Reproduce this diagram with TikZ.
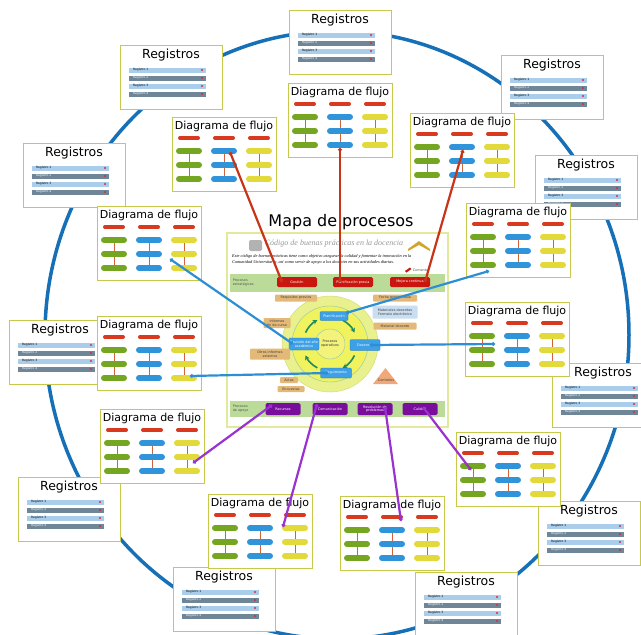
\documentclass[tikz,border=0pt]{standalone}
\usepackage{fontspec}
\setmainfont{DejaVu Sans}
\newfontfamily\cabfont{Liberation Serif}
\usetikzlibrary{arrows.meta}

\definecolor{bordecaja}{HTML}{C8C84A}
\definecolor{rojobarra}{HTML}{D8391F}
\definecolor{verde}{HTML}{74A622}
\definecolor{azul}{HTML}{2F94DA}
\definecolor{amarillo}{HTML}{E2D93B}
\definecolor{lineacol}{HTML}{D0653C}
\definecolor{regclaro}{HTML}{A9CDEA}
\definecolor{regoscuro}{HTML}{6E8698}
\definecolor{puntorojo}{HTML}{D03040}
\definecolor{elipse}{HTML}{1670B8}
\definecolor{rojolinea}{HTML}{C93417}
\definecolor{azullinea}{HTML}{2C8FD5}
\definecolor{moradolinea}{HTML}{9A32D2}
\definecolor{bordepanel}{HTML}{E2E99A}
\definecolor{verdebanda}{HTML}{BBDC98}
\definecolor{rojocaja}{HTML}{C9160E}
\definecolor{moradocaja}{HTML}{7A0E9C}
\definecolor{azulcaja}{HTML}{3EA0E6}
\definecolor{naranja}{HTML}{E4B978}
\definecolor{azulclaro}{HTML}{C9DEF0}
\definecolor{naranjatri}{HTML}{F0A878}
\definecolor{anillo}{HTML}{E9F08E}
\definecolor{anilloborde}{HTML}{CEDB72}
\definecolor{medio}{HTML}{F1F35E}
\definecolor{nucleo}{HTML}{F3F37C}
\definecolor{verdeflecha}{HTML}{1F8A5C}
\definecolor{gristexto}{HTML}{555555}

\begin{document}
\begin{tikzpicture}[x=1pt, y=-1pt,
    caja/.style={draw=bordecaja, line width=1.2pt, fill=white, anchor=north west, inner sep=0pt},
    cajaflujo/.style={caja, minimum width=104pt, minimum height=74pt},
    cajareg/.style={caja, minimum width=102pt, minimum height=64pt},
    titflujo/.style={inner sep=0pt, font=\fontsize{11}{12}\selectfont},
    titreg/.style={inner sep=0pt, font=\fontsize{12.5}{14}\selectfont},
    barra/.style={line width=6pt, line cap=round},
    regtxt/.style={inner sep=0pt, anchor=west, font=\fontsize{3}{3.5}\selectfont},
    diminuto/.style={inner sep=0.6pt, font=\fontsize{3.4}{3.9}\selectfont, align=center},
    banda/.style={fill=verdebanda, anchor=north west, minimum width=215pt, inner sep=0pt},
    cajaroja/.style={diminuto, fill=rojocaja, text=white, rounded corners=1.5pt, minimum width=40pt, minimum height=10pt},
    cajamorada/.style={diminuto, fill=moradocaja, text=white, rounded corners=1.5pt, minimum width=35pt, minimum height=12pt},
    cajaazul/.style={diminuto, fill=azulcaja, draw=azulcaja!70!black, line width=0.3pt, text=white, rounded corners=1pt},
    etiqueta/.style={diminuto, fill=naranja, text=black!75, rounded corners=1pt},
    flecha/.style={verdeflecha, line width=1.6pt, -{Stealth[length=4.5pt, width=5pt]}},
    conexion/.style={line width=2.2pt, {Circle[length=3.6pt]}-{Circle[length=3.6pt]}},
    flujo/.pic={
      \node[titflujo] (-t) at (52,9) {Diagrama de flujo};
      \foreach \cx/\col in {17/verde,52/azul,87/amarillo}{
        \draw[lineacol, line width=0.6pt] (\cx,34) -- (\cx,62);
        \draw[barra, line width=4pt, rojobarra] (\cx-9,21) -- (\cx+9,21);
        \foreach \yy in {34,48,62}
          \draw[barra, \col] (\cx-10,\yy) -- (\cx+10,\yy);
      }
    },
    registros/.pic={
      \node[titreg] (-t) at (51,10) {Registros};
      \foreach \k/\yy/\fondo/\letra in {1/25/regclaro/black,2/33/regoscuro/white,3/41/regclaro/black,4/49/regoscuro/white}{
        \fill[\fondo] (9,\yy-2.5) rectangle (86,\yy+2.5);
        \node[regtxt, text=\letra] (-r\k) at (13,\yy) {Registro \k};
        \fill[puntorojo] (82,\yy) circle (1.1);
      }
    }]
  \fill[white] (0,0) rectangle (641,635);
  \useasboundingbox (0,0) rectangle (641,635);

  % gran circulo
  \draw[elipse, line width=3.5pt] (337,335) ellipse (292 and 304);

  % registros
  \node[cajareg] (reg1) at (23,143) {};
  \pic (reg1c) at (reg1.north west) {registros};
  \node[cajareg] (reg2) at (120,45) {};
  \pic (reg2c) at (reg2.north west) {registros};
  \node[cajareg] (reg3) at (289,10) {};
  \pic (reg3c) at (reg3.north west) {registros};
  \node[cajareg] (reg4) at (501,55) {};
  \pic (reg4c) at (reg4.north west) {registros};
  \node[cajareg] (reg5) at (535,155) {};
  \pic (reg5c) at (reg5.north west) {registros};
  \node[cajareg] (reg6) at (9,320) {};
  \pic (reg6c) at (reg6.north west) {registros};
  \node[cajareg] (reg7) at (552,363) {};
  \pic (reg7c) at (reg7.north west) {registros};
  \node[cajareg] (reg8) at (18,477) {};
  \pic (reg8c) at (reg8.north west) {registros};
  \node[cajareg] (reg9) at (538,501) {};
  \pic (reg9c) at (reg9.north west) {registros};
  \node[cajareg] (reg10) at (173,567) {};
  \pic (reg10c) at (reg10.north west) {registros};
  \node[cajareg] (reg11) at (415,572) {};
  \pic (reg11c) at (reg11.north west) {registros};

  % diagramas de flujo
  \node[cajaflujo] (flu1) at (172,117) {};
  \pic (flu1c) at (flu1.north west) {flujo};
  \node[cajaflujo] (flu2) at (288,83) {};
  \pic (flu2c) at (flu2.north west) {flujo};
  \node[cajaflujo] (flu3) at (410,113) {};
  \pic (flu3c) at (flu3.north west) {flujo};
  \node[cajaflujo] (flu4) at (97,206) {};
  \pic (flu4c) at (flu4.north west) {flujo};
  \node[cajaflujo] (flu5) at (466,203) {};
  \pic (flu5c) at (flu5.north west) {flujo};
  \node[cajaflujo] (flu6) at (97,316) {};
  \pic (flu6c) at (flu6.north west) {flujo};
  \node[cajaflujo] (flu7) at (465,302) {};
  \pic (flu7c) at (flu7.north west) {flujo};
  \node[cajaflujo] (flu8) at (100,409) {};
  \pic (flu8c) at (flu8.north west) {flujo};
  \node[cajaflujo] (flu9) at (456,432) {};
  \pic (flu9c) at (flu9.north west) {flujo};
  \node[cajaflujo] (flu10) at (208,494) {};
  \pic (flu10c) at (flu10.north west) {flujo};
  \node[cajaflujo] (flu11) at (340,496) {};
  \pic (flu11c) at (flu11.north west) {flujo};

  % mapa central
  \node[draw=bordepanel, line width=2pt, fill=white, anchor=north west, inner sep=0pt,
        minimum width=221pt, minimum height=194pt] (panel) at (226,232) {};
  \node[inner sep=0pt, font=\fontsize{16}{19}\selectfont] (titulo) at (341,222) {Mapa de procesos};
  \fill[gray!60, rounded corners=2pt] (249,240) rectangle (262,251);
  \fill[brown!70!yellow] (408,249) -- (419,241) -- (430,249) -- (430,251) -- (419,245) -- (408,251) -- cycle;
  \node[inner sep=0pt, text=gray!80, font=\cabfont\itshape\fontsize{8}{9}\selectfont] (cabecera) at (334,244)
    {Código de buenas prácticas en la docencia};
  \node[inner sep=0pt, anchor=west, font=\cabfont\itshape\fontsize{4.3}{5}\selectfont] (texto1) at (232,256)
    {Este código de buenas prácticas tiene como objetivo asegurar la calidad y fomentar la innovación en la};
  \node[inner sep=0pt, anchor=west, font=\cabfont\itshape\fontsize{4.3}{5}\selectfont] (texto2) at (232,262)
    {Comunidad Universitaria, así como servir de apoyo a los docentes en sus actividades diarias.};
  \fill[rojocaja] (405,271) -- (410,267.5) -- (411.5,269) -- (406.5,272.5) -- cycle;
  \node[diminuto, anchor=west, text=gristexto] (comentar) at (412,270) {Comentar};

  \node[banda, minimum height=18pt] (estrategicos) at (230,274) {};
  \node[diminuto, anchor=west, align=left, text=gristexto] (lblestr) at (232,283) {Procesos\\estratégicos};
  \node[cajaroja] (gestion) at (297,282) {Gestión};
  \node[cajaroja] (planprev) at (353,282) {Planificación previa};
  \node[cajaroja] (mejora) at (410,282) {Mejora continua};

  \node[banda, minimum height=16pt] (apoyo) at (230,401) {};
  \node[diminuto, anchor=west, align=left, text=gristexto] (lblapoyo) at (232,409) {Procesos\\de apoyo};
  \node[cajamorada] (recursos) at (283,409) {Recursos};
  \node[cajamorada] (comunic) at (330,409) {Comunicación};
  \node[cajamorada] (resol) at (375,409) {Resolución de\\problemas};
  \node[cajamorada] (calidad) at (420,409) {Calidad};

  \node[circle, inner sep=0pt, fill=anillo, draw=anilloborde, minimum size=96pt] (anillo) at (330,344) {};
  \node[circle, inner sep=0pt, fill=medio, draw=verdeflecha!50, minimum size=76pt] (medio) at (330,344) {};
  \node[circle, inner sep=0pt, fill=nucleo, draw=verdeflecha!50, minimum size=30pt] (nucleo) at (330,344) {};
  \node[diminuto, text=black!80] (operativos) at (330,344) {Procesos\\operativos};
  \draw[flecha] (anillo.center) ++(205:27) arc (205:242:27);
  \draw[flecha] (anillo.center) ++(298:27) arc (298:335:27);
  \draw[flecha] (anillo.center) ++(25:27) arc (25:62:27);
  \draw[flecha] (anillo.center) ++(118:27) arc (118:155:27);
  \node[cajaazul, minimum width=28pt, minimum height=9pt] (planif) at (334,316) {Planificación};
  \node[cajaazul, minimum width=30pt, minimum height=11pt] (docencia) at (365,345) {Docencia};
  \node[cajaazul, minimum width=30pt, minimum height=12pt] (revision) at (304,344) {Revisión del año\\académico};
  \node[cajaazul, minimum width=31pt, minimum height=10pt] (seguim) at (336,373) {Seguimiento};

  \node[etiqueta, minimum width=42pt, minimum height=7pt] (requisitos) at (296,298) {Requisitos previos};
  \node[etiqueta, minimum width=44pt, minimum height=7pt] (fecha) at (395,298) {Fecha programada};
  \node[etiqueta, fill=azulclaro, minimum width=45pt, minimum height=13pt] (materiales) at (395,312) {Materiales docentes\\Formato electrónico};
  \node[etiqueta, minimum width=43pt, minimum height=7pt] (material) at (395,326) {Material docente};
  \node[etiqueta, minimum width=27pt, minimum height=10pt] (informes) at (277,323) {Informes\\fin de curso};
  \node[etiqueta, minimum width=40pt, minimum height=11pt] (otros) at (270,354) {Otros informes\\externos};
  \node[etiqueta, minimum width=18pt, minimum height=6pt] (actas) at (289,380) {Actas};
  \node[etiqueta, minimum width=27pt, minimum height=6pt] (encuestas) at (291,389) {Encuestas};
  \fill[naranjatri] (373,384) -- (385.5,368) -- (398,384) -- cycle;
  \node[diminuto, text=black!75] (controles) at (386,380) {Controles};

  % conexiones
  \coordinate (fin1) at (230,152);
  \coordinate (fin2) at (340,148);
  \coordinate (fin3) at (463,150);
  \coordinate (fin4) at (170,259);
  \coordinate (fin5) at (489,271);
  \coordinate (fin6) at (190,376);
  \coordinate (fin7) at (495,344);
  \coordinate (fin8) at (193,463);
  \coordinate (fin9) at (471,470);
  \coordinate (fin10) at (283,527);
  \coordinate (fin11) at (401,521);
  \draw[conexion, rojolinea] ([xshift=-15pt]gestion.center) -- (fin1);
  \draw[conexion, rojolinea] ([xshift=-13pt]planprev.center) -- (fin2);
  \draw[conexion, rojolinea] ([xshift=15pt]mejora.center) -- (fin3);
  \draw[conexion, azullinea] ([xshift=-11pt]revision.center) -- (fin4);
  \draw[conexion, azullinea] ([xshift=12pt,yshift=3pt]planif.center) -- (fin5);
  \draw[conexion, azullinea] ([xshift=-8pt]seguim.center) -- (fin6);
  \draw[conexion, azullinea] ([xshift=5pt]docencia.center) -- (fin7);
  \draw[conexion, moradolinea] ([xshift=-11pt,yshift=4pt]recursos.center) -- (fin8);
  \draw[conexion, moradolinea] ([xshift=-13pt,yshift=5pt]comunic.center) -- (fin10);
  \draw[conexion, moradolinea] ([xshift=10pt,yshift=2pt]resol.center) -- (fin11);
  \draw[conexion, moradolinea] ([xshift=3pt,yshift=2pt]calidad.center) -- (fin9);
\end{tikzpicture}
\end{document}
